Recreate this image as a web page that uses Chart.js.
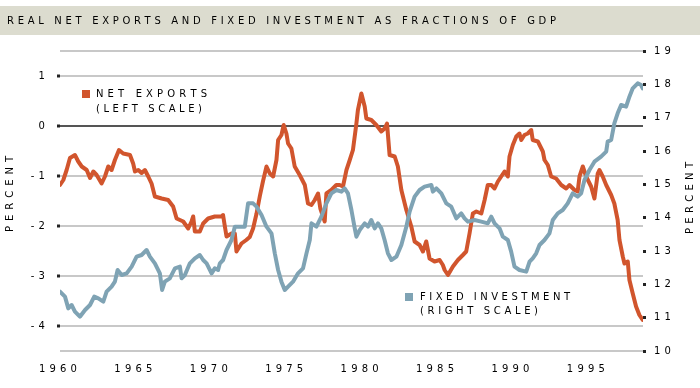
<!DOCTYPE html>
<html>
<head>
<meta charset="utf-8">
<script src="https://cdn.jsdelivr.net/npm/chart.js@4.4.1/dist/chart.umd.min.js"></script>
<style>
  html, body { margin: 0; padding: 0; background: #ffffff; }
  #wrap { width: 700px; height: 388px; position: relative; }
</style>
</head>
<body>
<div id="wrap"><canvas id="c"></canvas></div>
<script>
// ---- data (decimal years) ----
const TITLE = "REAL NET EXPORTS AND FIXED INVESTMENT AS FRACTIONS OF GDP";
const nxYears = [1960.00,1960.22,1960.44,1960.66,1960.99,1961.21,1961.44,1961.77,1961.99,1962.21,1962.43,1962.76,1962.98,1963.20,1963.42,1963.64,1963.91,1964.19,1964.64,1964.85,1964.97,1965.19,1965.41,1965.63,1965.85,1966.07,1966.29,1966.74,1967.17,1967.50,1967.73,1967.95,1968.17,1968.50,1968.72,1968.83,1968.94,1969.27,1969.49,1969.82,1970.26,1970.71,1970.81,1970.93,1971.04,1971.37,1971.59,1971.70,1972.03,1972.35,1972.58,1972.80,1973.03,1973.25,1973.46,1973.69,1973.91,1974.13,1974.35,1974.46,1974.68,1974.83,1975.01,1975.12,1975.34,1975.56,1975.89,1976.23,1976.44,1976.67,1976.89,1977.11,1977.26,1977.55,1977.66,1977.99,1978.32,1978.54,1978.76,1978.99,1979.21,1979.42,1979.65,1979.75,1979.98,1980.20,1980.31,1980.64,1980.97,1981.30,1981.52,1981.68,1981.85,1982.19,1982.40,1982.63,1982.96,1983.29,1983.51,1983.84,1984.06,1984.28,1984.50,1984.83,1985.17,1985.38,1985.50,1985.72,1986.05,1986.38,1986.71,1986.93,1987.15,1987.37,1987.60,1987.93,1988.15,1988.36,1988.59,1988.81,1989.03,1989.25,1989.47,1989.69,1989.80,1990.02,1990.25,1990.46,1990.58,1990.79,1991.01,1991.24,1991.34,1991.68,1992.01,1992.12,1992.34,1992.56,1992.89,1993.23,1993.56,1993.77,1994.11,1994.32,1994.44,1994.66,1994.88,1995.21,1995.43,1995.65,1995.76,1995.98,1996.21,1996.54,1996.75,1996.97,1997.09,1997.31,1997.42,1997.64,1997.75,1997.97,1998.19,1998.41,1998.63];
const netExports = [-1.18,-1.08,-0.88,-0.64,-0.58,-0.71,-0.81,-0.88,-1.04,-0.91,-0.98,-1.15,-1.01,-0.81,-0.88,-0.68,-0.48,-0.55,-0.58,-0.75,-0.91,-0.88,-0.94,-0.88,-1.01,-1.15,-1.41,-1.45,-1.48,-1.61,-1.85,-1.88,-1.91,-2.05,-1.91,-1.81,-2.11,-2.11,-1.95,-1.85,-1.81,-1.81,-1.78,-2.01,-2.21,-2.15,-2.15,-2.51,-2.35,-2.28,-2.22,-2.05,-1.75,-1.40,-1.10,-0.81,-0.95,-1.01,-0.68,-0.28,-0.18,0.02,-0.15,-0.35,-0.45,-0.81,-0.98,-1.18,-1.55,-1.58,-1.48,-1.35,-1.65,-1.91,-1.35,-1.28,-1.18,-1.18,-1.21,-0.88,-0.68,-0.48,0.05,0.32,0.65,0.39,0.15,0.12,0.02,-0.11,-0.05,0.05,-0.58,-0.61,-0.81,-1.28,-1.68,-2.01,-2.31,-2.38,-2.51,-2.31,-2.65,-2.71,-2.68,-2.78,-2.88,-2.98,-2.81,-2.68,-2.58,-2.51,-2.15,-1.75,-1.71,-1.75,-1.48,-1.18,-1.18,-1.25,-1.11,-1.01,-0.91,-1.01,-0.61,-0.38,-0.21,-0.15,-0.28,-0.18,-0.15,-0.08,-0.28,-0.31,-0.51,-0.68,-0.78,-1.01,-1.05,-1.18,-1.25,-1.18,-1.28,-1.31,-1.01,-0.81,-1.01,-1.21,-1.45,-0.95,-0.88,-1.01,-1.18,-1.38,-1.55,-1.88,-2.28,-2.61,-2.75,-2.71,-3.08,-3.35,-3.61,-3.78,-3.88];
const fiYears = [1960.00,1960.33,1960.55,1960.77,1960.99,1961.32,1961.66,1961.99,1962.27,1962.54,1962.87,1963.09,1963.42,1963.64,1963.82,1964.09,1964.42,1964.75,1965.08,1965.41,1965.74,1965.96,1966.29,1966.62,1966.77,1966.95,1967.28,1967.62,1967.95,1968.06,1968.28,1968.61,1968.94,1969.27,1969.49,1969.72,1970.05,1970.26,1970.48,1970.60,1970.81,1971.04,1971.37,1971.59,1971.92,1972.25,1972.47,1972.80,1973.03,1973.36,1973.69,1974.02,1974.24,1974.46,1974.68,1974.90,1975.12,1975.45,1975.78,1976.11,1976.34,1976.56,1976.67,1977.00,1977.33,1977.66,1977.99,1978.32,1978.66,1978.87,1979.09,1979.32,1979.54,1979.65,1979.87,1980.20,1980.42,1980.64,1980.86,1981.08,1981.30,1981.52,1981.74,1981.97,1982.30,1982.63,1982.96,1983.18,1983.51,1983.84,1984.17,1984.62,1984.72,1984.95,1985.28,1985.61,1985.94,1986.27,1986.60,1986.82,1987.04,1987.48,1987.93,1988.36,1988.59,1988.81,1989.14,1989.36,1989.69,1989.91,1990.13,1990.46,1990.91,1991.13,1991.34,1991.57,1991.79,1992.12,1992.45,1992.67,1993.00,1993.33,1993.66,1993.99,1994.32,1994.55,1994.77,1995.10,1995.43,1995.87,1996.21,1996.31,1996.54,1996.75,1996.97,1997.20,1997.53,1997.75,1997.97,1998.30,1998.52,1998.63];
const fixedInvestment = [11.78,11.63,11.28,11.38,11.18,11.03,11.23,11.38,11.63,11.58,11.48,11.78,11.93,12.08,12.43,12.28,12.33,12.53,12.83,12.88,13.03,12.83,12.63,12.33,11.83,12.08,12.18,12.48,12.53,12.18,12.28,12.63,12.78,12.88,12.73,12.63,12.33,12.48,12.43,12.63,12.73,13.03,13.33,13.73,13.73,13.73,14.43,14.43,14.33,14.08,13.73,13.53,12.93,12.43,12.08,11.83,11.93,12.08,12.33,12.48,12.93,13.33,13.83,13.73,14.03,14.43,14.73,14.83,14.78,14.88,14.73,14.23,13.68,13.43,13.63,13.83,13.73,13.93,13.68,13.83,13.68,13.33,12.93,12.73,12.83,13.18,13.73,14.18,14.63,14.83,14.93,14.98,14.78,14.88,14.73,14.43,14.33,13.98,14.13,13.98,13.88,13.93,13.88,13.83,14.03,13.83,13.68,13.43,13.33,12.98,12.53,12.43,12.38,12.68,12.78,12.93,13.18,13.33,13.53,13.93,14.13,14.23,14.43,14.73,14.63,14.73,15.13,15.43,15.68,15.83,15.98,16.28,16.33,16.83,17.13,17.38,17.33,17.63,17.88,18.03,17.98,17.88];
const xTickYears = [1960,1965,1970,1975,1980,1985,1990,1995];
const leftTicks = [1.5,1,0,-1,-2,-3,-4,-4.5];
const rightTicks = [19,18,17,16,15,14,13,12,11,10];
const seriesLabels = ["NET EXPORTS", "(LEFT SCALE)", "FIXED INVESTMENT", "(RIGHT SCALE)"];
const axisTitle = "PERCENT";

const ORANGE = '#d1552d';
const BLUE = '#7fa3b4';
const TXT = '#000000';
const FONT = '"DejaVu Sans", sans-serif';

// draw text character by character so that its visible width equals a target width
function spacedText(c, text, x, y, width, align) {
  c.letterSpacing = '0px';
  c.font = '10px ' + FONT;
  c.textAlign = 'left';
  const chars = Array.from(text);
  const ws = chars.map(ch => c.measureText(ch).width);
  const total = ws.reduce((a, b) => a + b, 0);
  const sp = (width - total) / Math.max(1, chars.length - 1);
  let cx = (align === 'center') ? x - width / 2 : x;
  chars.forEach((ch, i) => { c.fillText(ch, cx, y); cx += ws[i] + sp; });
}

const deco = {
  id: 'deco',
  beforeDraw(chart) {
    const c = chart.ctx;
    c.save();
    c.fillStyle = '#ffffff';
    c.fillRect(0, 0, chart.width, chart.height);
    c.fillStyle = '#dcdccf';
    c.fillRect(0, 6, 700, 29);
    c.fillStyle = TXT;
    c.textBaseline = 'middle';
    spacedText(c, TITLE, 7, 21, 549, 'left');
    c.restore();
    // spacing for tick labels so that "1960" is ~38px wide
    c.letterSpacing = '0px';
    c.font = '10px ' + FONT;
    const w = c.measureText('1960').width;
    c.letterSpacing = ((38 - w) / 3).toFixed(2) + 'px';
  },
  afterDraw(chart) {
    const c = chart.ctx;
    c.save();
    c.textBaseline = 'middle';
    c.fillStyle = ORANGE;
    c.fillRect(82, 90, 8, 8);
    c.fillStyle = BLUE;
    c.fillRect(405, 293, 8, 8);
    c.fillStyle = TXT;
    spacedText(c, seriesLabels[0], 96, 94.5, 111, 'left');
    spacedText(c, seriesLabels[1], 96, 109.5, 106, 'left');
    spacedText(c, seriesLabels[2], 420, 297.5, 150, 'left');
    spacedText(c, seriesLabels[3], 420, 311, 118, 'left');
    c.save();
    c.translate(10, 194);
    c.rotate(-Math.PI / 2);
    spacedText(c, axisTitle, 0, 0, 76, 'center');
    c.restore();
    c.save();
    c.translate(690, 198);
    c.rotate(-Math.PI / 2);
    spacedText(c, axisTitle, 0, 0, 72, 'center');
    c.restore();
    c.restore();
  }
};

const tickFont = { family: FONT, size: 10 };

new Chart(document.getElementById('c'), {
  type: 'line',
  data: {
    datasets: [
      {
        label: 'Net exports',
        data: nxYears.map((x, i) => ({ x, y: netExports[i] })),
        yAxisID: 'yL',
        borderColor: ORANGE,
        borderWidth: 4,
        pointRadius: 0,
        tension: 0,
        borderJoinStyle: 'round',
        borderCapStyle: 'round',
        order: 2
      },
      {
        label: 'Fixed investment',
        data: fiYears.map((x, i) => ({ x, y: fixedInvestment[i] })),
        yAxisID: 'yR',
        borderColor: BLUE,
        borderWidth: 4,
        pointRadius: 0,
        tension: 0,
        borderJoinStyle: 'round',
        borderCapStyle: 'round',
        order: 1
      }
    ]
  },
  options: {
    responsive: true,
    maintainAspectRatio: false,
    animation: false,
    layout: { padding: { top: 51, left: 0, right: 0, bottom: 0 } },
    plugins: { legend: { display: false }, tooltip: { enabled: false }, title: { display: false } },
    scales: {
      x: {
        type: 'linear',
        min: 1960,
        max: 1998.65,
        grid: { display: false, drawTicks: false },
        border: { display: false },
        afterBuildTicks: s => { s.ticks = xTickYears.map(v => ({ value: v })); },
        afterFit: s => { s.height = 37; },
        ticks: { color: TXT, font: tickFont, padding: 12, maxRotation: 0, autoSkip: false, callback: v => String(v) }
      },
      yL: {
        type: 'linear',
        position: 'left',
        min: -4.5,
        max: 1.5,
        afterBuildTicks: s => { s.ticks = leftTicks.map(v => ({ value: v })); },
        afterFit: s => { s.width = 60; },
        border: { display: false },
        grid: {
          color: ctx => (ctx.tick && ctx.tick.value === 0) ? '#555555' : '#c8c8c8',
          lineWidth: 2,
          drawTicks: true,
          tickLength: 3,
          tickWidth: 3,
          tickColor: ctx => (ctx.tick && Number.isInteger(ctx.tick.value)) ? '#222222' : 'rgba(0,0,0,0)'
        },
        ticks: { color: TXT, font: tickFont, padding: 8, autoSkip: false, callback: v => Number.isInteger(v) ? String(v) : '' }
      },
      yR: {
        type: 'linear',
        position: 'right',
        min: 10,
        max: 19,
        afterBuildTicks: s => { s.ticks = rightTicks.map(v => ({ value: v })); },
        afterFit: s => { s.width = 57; },
        border: { display: false },
        grid: { drawOnChartArea: false, drawTicks: true, tickLength: 3, tickWidth: 3, tickColor: '#222222' },
        ticks: { color: TXT, font: tickFont, padding: 8, autoSkip: false, callback: v => String(v) }
      }
    }
  },
  plugins: [deco]
});
</script>
</body>
</html>
